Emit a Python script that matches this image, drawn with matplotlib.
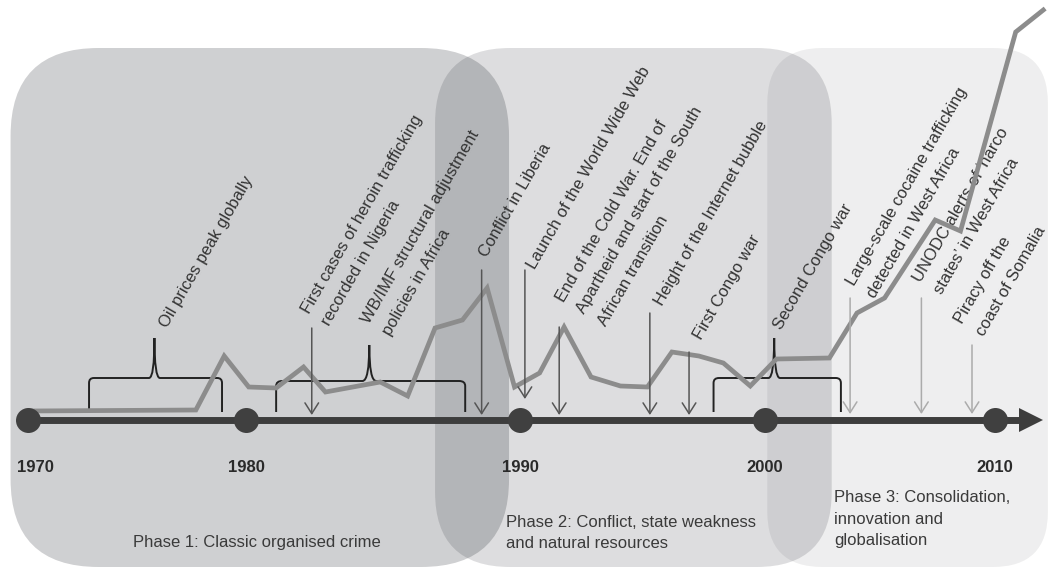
import numpy as np
import matplotlib.pyplot as plt
from matplotlib.patches import FancyBboxPatch, PathPatch
from matplotlib.path import Path

plt.rcParams['font.family'] = ['Liberation Sans', 'DejaVu Sans']
plt.rcParams['font.size'] = 12

# timeline decades and where they sit across the 1062 px wide picture
decades = [1970, 1980, 1990, 2000, 2010]
decade_px = [28, 246, 520, 765, 995]

# grey trend line
trend_years = [1970, 1977.7, 1979.0, 1980.1, 1981.1, 1982.1, 1982.9, 1984.9, 1985.9,
               1986.9, 1987.9, 1988.8, 1989.8, 1990.8, 1991.8, 1992.9, 1994.1, 1995.2,
               1996.2, 1997.3, 1998.3, 1999.4, 2000.5, 2002.8, 2004.0, 2005.2, 2007.4,
               2008.5, 2010.9, 2012.1]
trend_level = [9, 10, 64, 33, 32, 53, 28, 38, 24, 92, 100, 132, 33, 47, 93, 43, 34, 33,
               68, 64, 57, 34, 61, 62, 107, 122, 200, 189, 388, 410]

# single events marked with an arrow
event_years = [1982.4, 1988.6, 1990.2, 1991.6, 1995.3, 1996.9, 2003.7, 2006.8, 2009.0]
event_tops = [92, 150, 150, 93, 107, 68, 122, 122, 75]
event_tips = [5, 5, 21, 5, 5, 5, 6, 6, 6]
event_light = [False, False, False, False, False, False, True, True, True]

# periods marked with a brace
period_start = [1972.8, 1981.1, 1997.9]
period_end = [1978.9, 1988.0, 2003.3]
period_mid = [1975.8, 1984.5, 2000.4]
brace_top = [42, 39, 42]
brace_peak = [82, 75, 82]

labels = [
    'Oil prices peak globally',
    'First cases of heroin trafficking\nrecorded in Nigeria',
    'WB/IMF structural adjustment\npolicies in Africa',
    'Conflict in Liberia',
    'Launch of the World Wide Web',
    'End of the Cold War. End of\nApartheid and start of the South\nAfrican transition',
    'Height of the Internet bubble',
    'First Congo war',
    'Second Congo war',
    'Large-scale cocaine trafficking\ndetected in West Africa',
    'UNODC alerts of \u2018narco\nstates\u2019 in West Africa',
    'Piracy off the\ncoast of Somalia',
]
label_years = [1976.4, 1982.3, 1984.5, 1988.8, 1990.6, 1991.8, 1995.8, 1997.4, 2000.7,
               2003.9, 2006.8, 2008.6]
label_levels = [92, 106, 95, 162, 150, 117, 114, 79, 90, 133, 137, 95]

phase_names = ['Phase 1: Classic organised crime',
               'Phase 2: Conflict, state weakness\nand natural resources',
               'Phase 3: Consolidation,\ninnovation and\nglobalisation']
phase_from = [1969.2, 1986.9, 2000.1]
phase_to = [1989.6, 2002.9, 2012.3]
phase_alpha = [0.19, 0.135, 0.067]
phase_round = [88, 75, 55]

# piecewise linear year -> px scale (extended past both ends)
kn_years = [1960] + decades + [2020]
kn_px = [decade_px[0] - 218] + decade_px + [decade_px[-1] + 230]


def fwd(x):
    return np.interp(x, kn_years, kn_px)


def inv(p):
    return np.interp(p, kn_px, kn_years)


fig = plt.figure(figsize=(10.62, 5.69), dpi=100)
ax = fig.add_axes([0, 0, 1, 1])
ax.set_xscale('function', functions=(fwd, inv))
ax.set_xlim(inv(0), inv(1062))
ax.set_ylim(-149, 420)
ax.axis('off')

# phase backgrounds, drawn in scaled units so the corners stay round
box_tr = ax.transLimits + ax.transAxes
for x0, x1, a, r in zip(phase_from, phase_to, phase_alpha, phase_round):
    p0 = float(fwd(x0))
    p1 = float(fwd(x1))
    box = FancyBboxPatch((p0, -147), p1 - p0, 372 + 147,
                         boxstyle=f'round,pad=0,rounding_size={r}',
                         transform=box_tr, facecolor='#030610', alpha=a,
                         edgecolor='none', zorder=0)
    ax.add_patch(box)

for name, x, y in zip(phase_names, [1974.8, 1989.5, 2003.0], [-123, -113, -99]):
    ax.text(x, y, name, ha='left', va='center', color='#3a3a3a', linespacing=1.55,
            zorder=5)


def brace(x0, x1, xm, top, peak, base=8):
    rx, ry, w = 0.22, 5, 0.25
    verts = [(x0, base), (x0, top - ry), (x0, top), (x0 + rx, top),
             (xm - w, top), (xm, top), (xm, peak), (xm, top), (xm + w, top),
             (x1 - rx, top), (x1, top), (x1, top - ry), (x1, base)]
    codes = [Path.MOVETO, Path.LINETO, Path.CURVE3, Path.CURVE3,
             Path.LINETO, Path.CURVE3, Path.CURVE3, Path.CURVE3, Path.CURVE3,
             Path.LINETO, Path.CURVE3, Path.CURVE3, Path.LINETO]
    ax.add_patch(PathPatch(Path(verts, codes), fill=False, lw=1.4,
                           edgecolor='#222222', zorder=2))


for s, e, m, t, p in zip(period_start, period_end, period_mid, brace_top, brace_peak):
    brace(s, e, m, t, p)

ax.plot(trend_years, trend_level, color='#8c8c8c', lw=3.4, zorder=5.5,
        solid_joinstyle='miter')

for yr, top, tip, light in zip(event_years, event_tops, event_tips, event_light):
    c = '#ababab' if light else '#555555'
    ax.annotate('', xy=(yr, tip), xytext=(yr, top),
                arrowprops=dict(arrowstyle='->,head_length=0.55,head_width=0.35',
                                mutation_scale=14, shrinkA=0, shrinkB=0,
                                lw=1.1, color=c), zorder=6)

# timeline
ax.plot([decades[0], 2011.57], [0, 0], color='#3d3d3d', lw=5,
        solid_capstyle='butt', zorder=6.5)
ax.plot([2011.57], [0], marker='>', ms=17.5, mew=0, color='#3d3d3d', zorder=6.5)
ax.plot(decades, [0] * len(decades), 'o', ms=18, mew=0, color='#404040', zorder=7)

for i, d in enumerate(decades):
    if i == 0:
        ax.text(1969.5, -48, str(d), ha='left', va='center', fontweight='bold',
                color='#2a2a2a', zorder=5)
    else:
        ax.text(d, -48, str(d), ha='center', va='center', fontweight='bold',
                color='#2a2a2a', zorder=5)

# rotated labels, one line at a time so each line starts where it should
ang = np.deg2rad(60)
gap = 24
for t, x, y in zip(labels, label_years, label_levels):
    for i, line in enumerate(t.split('\n')):
        ax.annotate(line, xy=(x, y),
                    xytext=(i * gap * np.sin(ang), -i * gap * np.cos(ang)),
                    textcoords='offset pixels', rotation=60, rotation_mode='anchor',
                    ha='left', va='baseline', color='#333333', zorder=5)

fig.savefig('out.png', dpi=100)
